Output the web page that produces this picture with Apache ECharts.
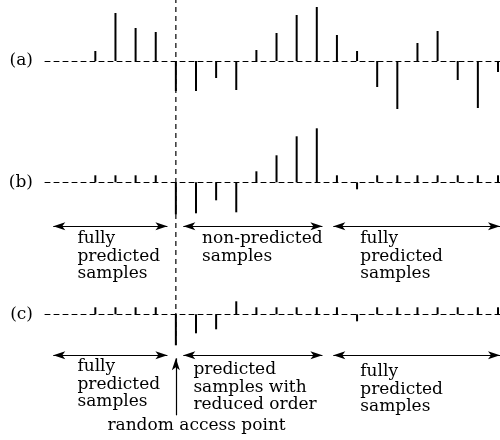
<!DOCTYPE html>
<html>
<head>
<meta charset="utf-8">
<script src="https://cdn.jsdelivr.net/npm/echarts@6/dist/echarts.min.js"></script>
<style>html,body{margin:0;padding:0;background:#fff}#c{width:500px;height:440px}</style>
</head>
<body>
<div id="c"></div>
<script>
// ---- data (sample index along x, stem amplitude) ----
const samples = [0,1,2,3,4,5,6,7,8,9,10,11,12,13,14,15,16,17,18,19,20];
const seriesA = [10,48,33,29,-30,-30,-17,-29,11,28,46,54,26,10,-26,-48,18,30,-19,-47,-11];
const seriesB = [7,7,7,7,-32,-31,-18,-30,11,27,46,54,7,-7,7,7,7,7,7,7,7];
const seriesC = [7,7,7,7,-31,-19,-15,13,7,7,7,7,7,-7,7,7,7,7,7,7,7];
const panelLabels = ['(a)','(b)','(c)'];
const randomAccessIndex = 4;
// arrow spans (in sample-index units) for rows under (b) and (c)
const arrowSpans = [[-2.09,3.58],[4.37,11.28],[11.82,20.1]];
const rowBTexts = ['fully\npredicted\nsamples','non-predicted\nsamples','fully\npredicted\nsamples'];
const rowCTexts = ['fully\npredicted\nsamples','predicted\nsamples with\nreduced order','fully\npredicted\nsamples'];
const rapText = 'random access point';

const FONT = 'DejaVu Serif';
const xMin = -2.5, xMax = 20.1;
const chart = echarts.init(document.getElementById('c'), null, {renderer:'canvas'});

function xAxisFor(gi, show){
  return {type:'value', gridIndex:gi, min:xMin, max:xMax, show:show,
    axisLine:{show:true, onZero:true, lineStyle:{color:'#000', width:1, type:[5,4]}},
    axisTick:{show:false}, axisLabel:{show:false}, splitLine:{show:false}};
}
function yAxisFor(gi, mn, mx){
  return {type:'value', gridIndex:gi, min:mn, max:mx, show:false, splitLine:{show:false}};
}
function stems(gi, vals){
  return {type:'bar', xAxisIndex:gi, yAxisIndex:gi, barWidth:2, silent:true,
    itemStyle:{color:'#000'}, data:samples.map((s,i)=>[s, vals[i]])};
}
function arrowLine(y){
  return arrowSpans.map(sp=>[{coord:[sp[0], y]},{coord:[sp[1], y]}]);
}

const option = {
  animation:false,
  grid:[
    {left:45, right:0, top:3, height:113},
    {left:45, right:0, top:124.3, height:153},
    {left:45, right:0, top:256.3, height:173},
    {left:45, right:0, top:0, height:345}
  ],
  xAxis:[xAxisFor(0,true), xAxisFor(1,true), xAxisFor(2,true), xAxisFor(3,false)],
  yAxis:[yAxisFor(0,-55,58), yAxisFor(1,-95,58), yAxisFor(2,-115,58), yAxisFor(3,0,1)],
  series:[
    stems(0, seriesA),
    Object.assign(stems(1, seriesB), {markLine:{silent:true, symbol:['arrow','arrow'], symbolSize:[6,12],
      label:{show:false}, lineStyle:{color:'#000', width:1.2, type:'solid'},
      data:arrowLine(-44)}}),
    Object.assign(stems(2, seriesC), {markLine:{silent:true, symbol:['arrow','arrow'], symbolSize:[6,12],
      label:{show:false}, lineStyle:{color:'#000', width:1.2, type:'solid'},
      data:arrowLine(-41).concat([[{coord:[randomAccessIndex,-101], symbol:'none'},{coord:[randomAccessIndex,-44], symbol:'arrow'}]])}}),
    {type:'line', xAxisIndex:3, yAxisIndex:3, silent:true, symbol:'none',
      lineStyle:{color:'#000', width:1.2, type:[5,4]},
      data:[[randomAccessIndex,0],[randomAccessIndex,1]]}
  ]
};
chart.setOption(option);

// text annotations positioned through the axes
const graphic = [];
panelLabels.forEach((t,gi)=>{
  const p = chart.convertToPixel({gridIndex:gi},[xMin,0]);
  graphic.push({type:'text', x:p[0]-12, y:p[1], style:{text:t, font:'17px "'+FONT+'"', fill:'#000', textAlign:'right', textVerticalAlign:'middle'}});
});
function block(gi, xs, yTop, texts){
  texts.forEach((t,i)=>{
    const p = chart.convertToPixel({gridIndex:gi},[xs[i], yTop[i]]);
    graphic.push({type:'text', x:p[0], y:p[1], style:{text:t, font:'17px "'+FONT+'"', lineHeight:17.5, fill:'#000', textAlign:'left', textVerticalAlign:'top'}});
  });
}
block(1, [-0.89, 5.3, 13.16], [-48,-48,-48], rowBTexts);
block(2, [-0.89, 4.87, 13.16], [-44,-47,-49], rowCTexts);
(function(){
  const p = chart.convertToPixel({gridIndex:2},[0.6,-111]);
  graphic.push({type:'text', x:p[0], y:p[1], style:{text:rapText, font:'17px "'+FONT+'"', fill:'#000', textAlign:'left', textVerticalAlign:'middle'}});
})();
chart.setOption({graphic:graphic});
</script>
</body>
</html>
